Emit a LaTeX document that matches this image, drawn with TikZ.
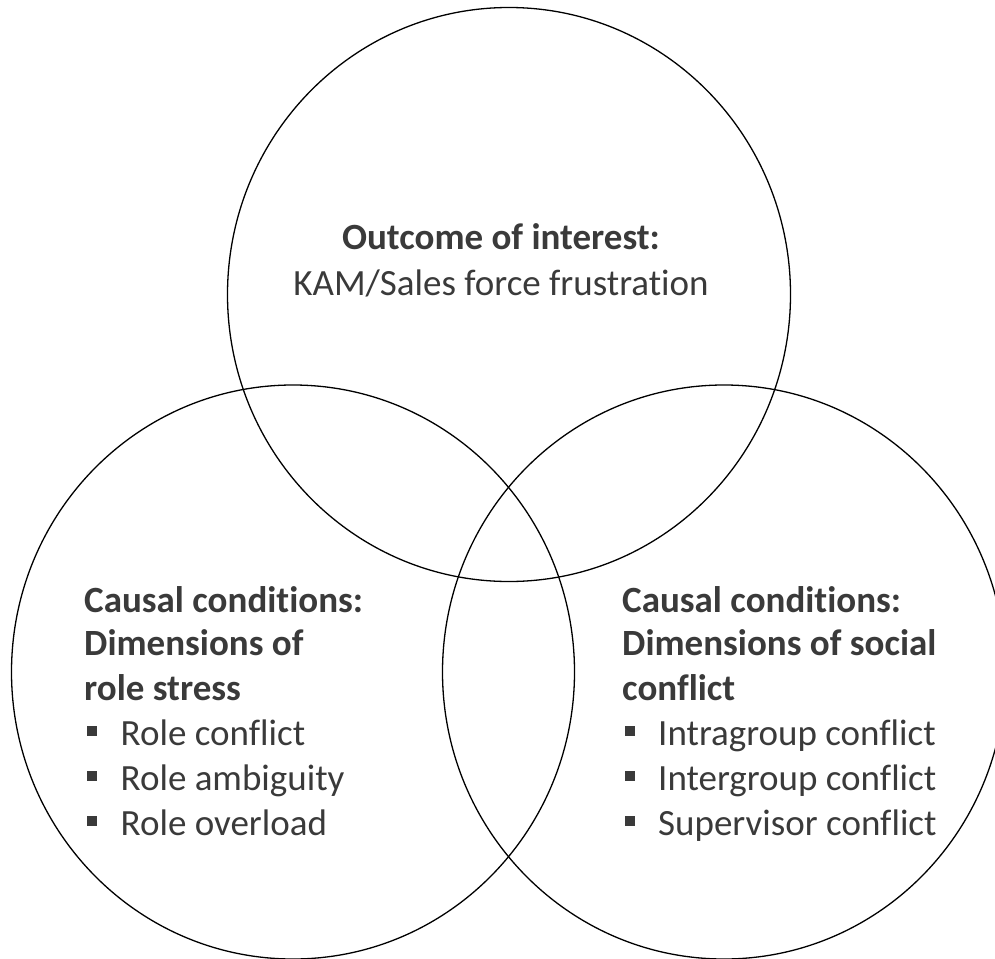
\documentclass[tikz,border=0pt]{standalone}
\usepackage{fontspec}
\setmainfont{Carlito}[Ligatures={NoCommon}]
\usepackage{tikz}

\definecolor{txtgray}{HTML}{3A3A3A}
\tikzset{
  vset/.style={line width=1.3pt},
  vlabel/.style={font=\fontsize{37}{45}\selectfont, text=txtgray, inner sep=0pt, anchor=base west},
  vhead/.style={vlabel, font=\fontsize{37}{45}\selectfont\bfseries},
  vbullet/.style={fill=txtgray, minimum width=9.5pt, minimum height=10pt, inner sep=0pt}
}

\begin{document}
\begin{tikzpicture}[x=1pt,y=-1pt]
\useasboundingbox (0,0) rectangle (995,958);
% the three sets
\draw[vset] (509,294.5) ellipse [x radius=281.5, y radius=287];
\draw[vset] (293,672) ellipse [x radius=281.5, y radius=287];
\draw[vset] (724,672) ellipse [x radius=281.5, y radius=287];
% outcome
\node[vhead, anchor=base] (outcome) at (501,249) {Outcome of interest:};
\node[vlabel, anchor=base] (kam) at (501,295) {KAM/Sales force frustration};
% role stress
\node[vhead] (lhead1) at (84,612) {Causal conditions:};
\node[vhead] (lhead2) at (84,655) {Dimensions of};
\node[vhead] (lhead3) at (84,700) {role stress};
\node[vbullet] (lb1) at (92,731) {};
\node[vlabel] (litem1) at (120.5,745) {Role conflict};
\node[vbullet] (lb2) at (92,776) {};
\node[vlabel] (litem2) at (120.5,790) {Role ambiguity};
\node[vbullet] (lb3) at (92,821) {};
\node[vlabel] (litem3) at (120.5,835) {Role overload};
% social conflict
\node[vhead] (rhead1) at (622,612) {Causal conditions:};
\node[vhead] (rhead2) at (622,655) {Dimensions of social};
\node[vhead] (rhead3) at (622,700) {conflict};
\node[vbullet] (rb1) at (630,731) {};
\node[vlabel] (ritem1) at (658,745) {Intragroup conflict};
\node[vbullet] (rb2) at (630,776) {};
\node[vlabel] (ritem2) at (658,790) {Intergroup conflict};
\node[vbullet] (rb3) at (630,821) {};
\node[vlabel] (ritem3) at (658,835) {Supervisor conflict};
\end{tikzpicture}
\end{document}
